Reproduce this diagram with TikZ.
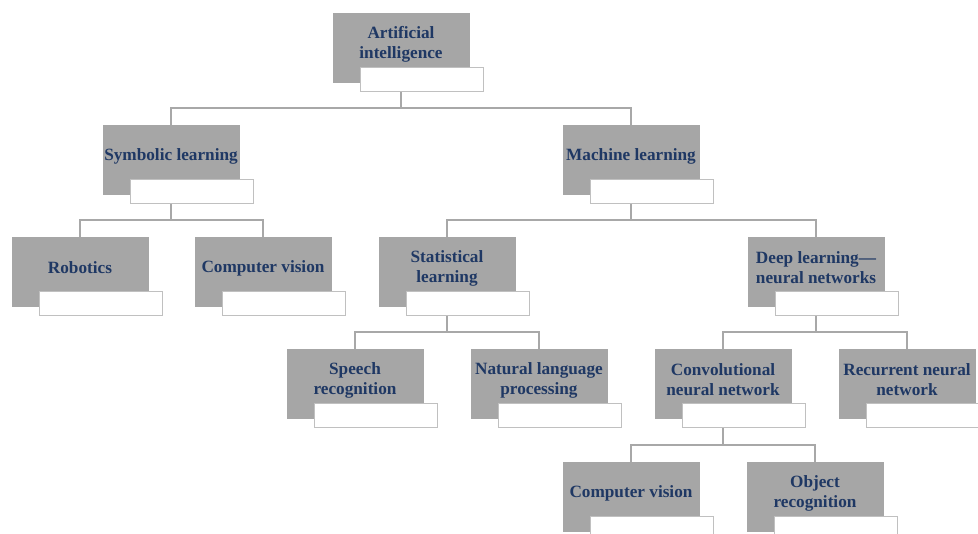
\documentclass[tikz,border=0pt]{standalone}
\usepackage{fontspec}
\setmainfont{Liberation Serif}

\definecolor{boxgray}{RGB}{166,166,166}
\definecolor{tabgray}{RGB}{192,192,192}
\definecolor{linegray}{RGB}{168,168,168}
\definecolor{navytext}{RGB}{31,56,100}

\begin{document}
\begin{tikzpicture}[x=0.02cm, y=-0.02cm,
  graybox/.style={fill=boxgray, draw=boxgray, minimum width=2.72cm, minimum height=1.38cm, inner sep=0pt, anchor=north},
  tabbox/.style={fill=white, draw=tabgray, line width=0.8pt, minimum width=2.46cm, minimum height=0.48cm, inner sep=0pt, anchor=north west},
  boxtext/.style={text=navytext, font=\fontsize{9.8}{11.4}\selectfont\bfseries, align=center, inner sep=0pt},
  link/.style={draw=linegray, line width=0.8pt}]

  \useasboundingbox (0,0) rectangle (978,534);
  \clip (0,0) rectangle (978,534);

  % level 0
  \node[graybox] (ai) at (401,13) {};
  \node[tabbox] (ai-tab) at ([xshift=0.54cm,yshift=-1.08cm]ai.north west) {};
  \node[boxtext] (ai-txt) at ([yshift=-0.62cm]ai.north) {Artificial\\intelligence};

  % level 1
  \node[graybox] (sym) at (171,125) {};
  \node[tabbox] (sym-tab) at ([xshift=0.54cm,yshift=-1.08cm]sym.north west) {};
  \node[boxtext] (sym-txt) at ([yshift=-0.62cm]sym.north) {Symbolic learning};

  \node[graybox] (ml) at (631,125) {};
  \node[tabbox] (ml-tab) at ([xshift=0.54cm,yshift=-1.08cm]ml.north west) {};
  \node[boxtext] (ml-txt) at ([yshift=-0.62cm]ml.north) {Machine learning};

  % level 2
  \node[graybox] (rob) at (80,237) {};
  \node[tabbox] (rob-tab) at ([xshift=0.54cm,yshift=-1.08cm]rob.north west) {};
  \node[boxtext] (rob-txt) at ([yshift=-0.62cm]rob.north) {Robotics};

  \node[graybox] (cv) at (263,237) {};
  \node[tabbox] (cv-tab) at ([xshift=0.54cm,yshift=-1.08cm]cv.north west) {};
  \node[boxtext] (cv-txt) at ([yshift=-0.62cm]cv.north) {Computer vision};

  \node[graybox] (stat) at (447,237) {};
  \node[tabbox] (stat-tab) at ([xshift=0.54cm,yshift=-1.08cm]stat.north west) {};
  \node[boxtext] (stat-txt) at ([yshift=-0.62cm]stat.north) {Statistical\\learning};

  \node[graybox] (deep) at (816,237) {};
  \node[tabbox] (deep-tab) at ([xshift=0.54cm,yshift=-1.08cm]deep.north west) {};
  \node[boxtext] (deep-txt) at ([yshift=-0.62cm]deep.north) {Deep learning---\\neural networks};

  % level 3
  \node[graybox] (speech) at (355,349) {};
  \node[tabbox] (speech-tab) at ([xshift=0.54cm,yshift=-1.08cm]speech.north west) {};
  \node[boxtext] (speech-txt) at ([yshift=-0.62cm]speech.north) {Speech\\recognition};

  \node[graybox] (nlp) at (539,349) {};
  \node[tabbox] (nlp-tab) at ([xshift=0.54cm,yshift=-1.08cm]nlp.north west) {};
  \node[boxtext] (nlp-txt) at ([yshift=-0.62cm]nlp.north) {Natural language\\processing};

  \node[graybox] (cnn) at (723,349) {};
  \node[tabbox] (cnn-tab) at ([xshift=0.54cm,yshift=-1.08cm]cnn.north west) {};
  \node[boxtext] (cnn-txt) at ([yshift=-0.62cm]cnn.north) {Convolutional\\neural network};

  \node[graybox] (rnn) at (907,349) {};
  \node[tabbox] (rnn-tab) at ([xshift=0.54cm,yshift=-1.08cm]rnn.north west) {};
  \node[boxtext] (rnn-txt) at ([yshift=-0.62cm]rnn.north) {Recurrent neural\\network};

  % level 4
  \node[graybox] (cvis) at (631,462) {};
  \node[tabbox] (cvis-tab) at ([xshift=0.54cm,yshift=-1.08cm]cvis.north west) {};
  \node[boxtext] (cvis-txt) at ([yshift=-0.62cm]cvis.north) {Computer vision};

  \node[graybox] (obj) at (815,462) {};
  \node[tabbox] (obj-tab) at ([xshift=0.54cm,yshift=-1.08cm]obj.north west) {};
  \node[boxtext] (obj-txt) at ([yshift=-0.62cm]obj.north) {Object\\recognition};

  % connectors
  \draw[link] (ai.south |- ai-tab.south) |- ([yshift=0.34cm]sym.north) -- (sym.north);
  \draw[link] (ai.south |- ai-tab.south) |- ([yshift=0.34cm]ml.north) -- (ml.north);

  \draw[link] (sym.south |- sym-tab.south) |- ([yshift=0.34cm]rob.north) -- (rob.north);
  \draw[link] (sym.south |- sym-tab.south) |- ([yshift=0.34cm]cv.north) -- (cv.north);

  \draw[link] (ml.south |- ml-tab.south) |- ([yshift=0.34cm]stat.north) -- (stat.north);
  \draw[link] (ml.south |- ml-tab.south) |- ([yshift=0.34cm]deep.north) -- (deep.north);

  \draw[link] (stat.south |- stat-tab.south) |- ([yshift=0.34cm]speech.north) -- (speech.north);
  \draw[link] (stat.south |- stat-tab.south) |- ([yshift=0.34cm]nlp.north) -- (nlp.north);

  \draw[link] (deep.south |- deep-tab.south) |- ([yshift=0.34cm]cnn.north) -- (cnn.north);
  \draw[link] (deep.south |- deep-tab.south) |- ([yshift=0.34cm]rnn.north) -- (rnn.north);

  \draw[link] (cnn.south |- cnn-tab.south) |- ([yshift=0.34cm]cvis.north) -- (cvis.north);
  \draw[link] (cnn.south |- cnn-tab.south) |- ([yshift=0.34cm]obj.north) -- (obj.north);

\end{tikzpicture}
\end{document}
